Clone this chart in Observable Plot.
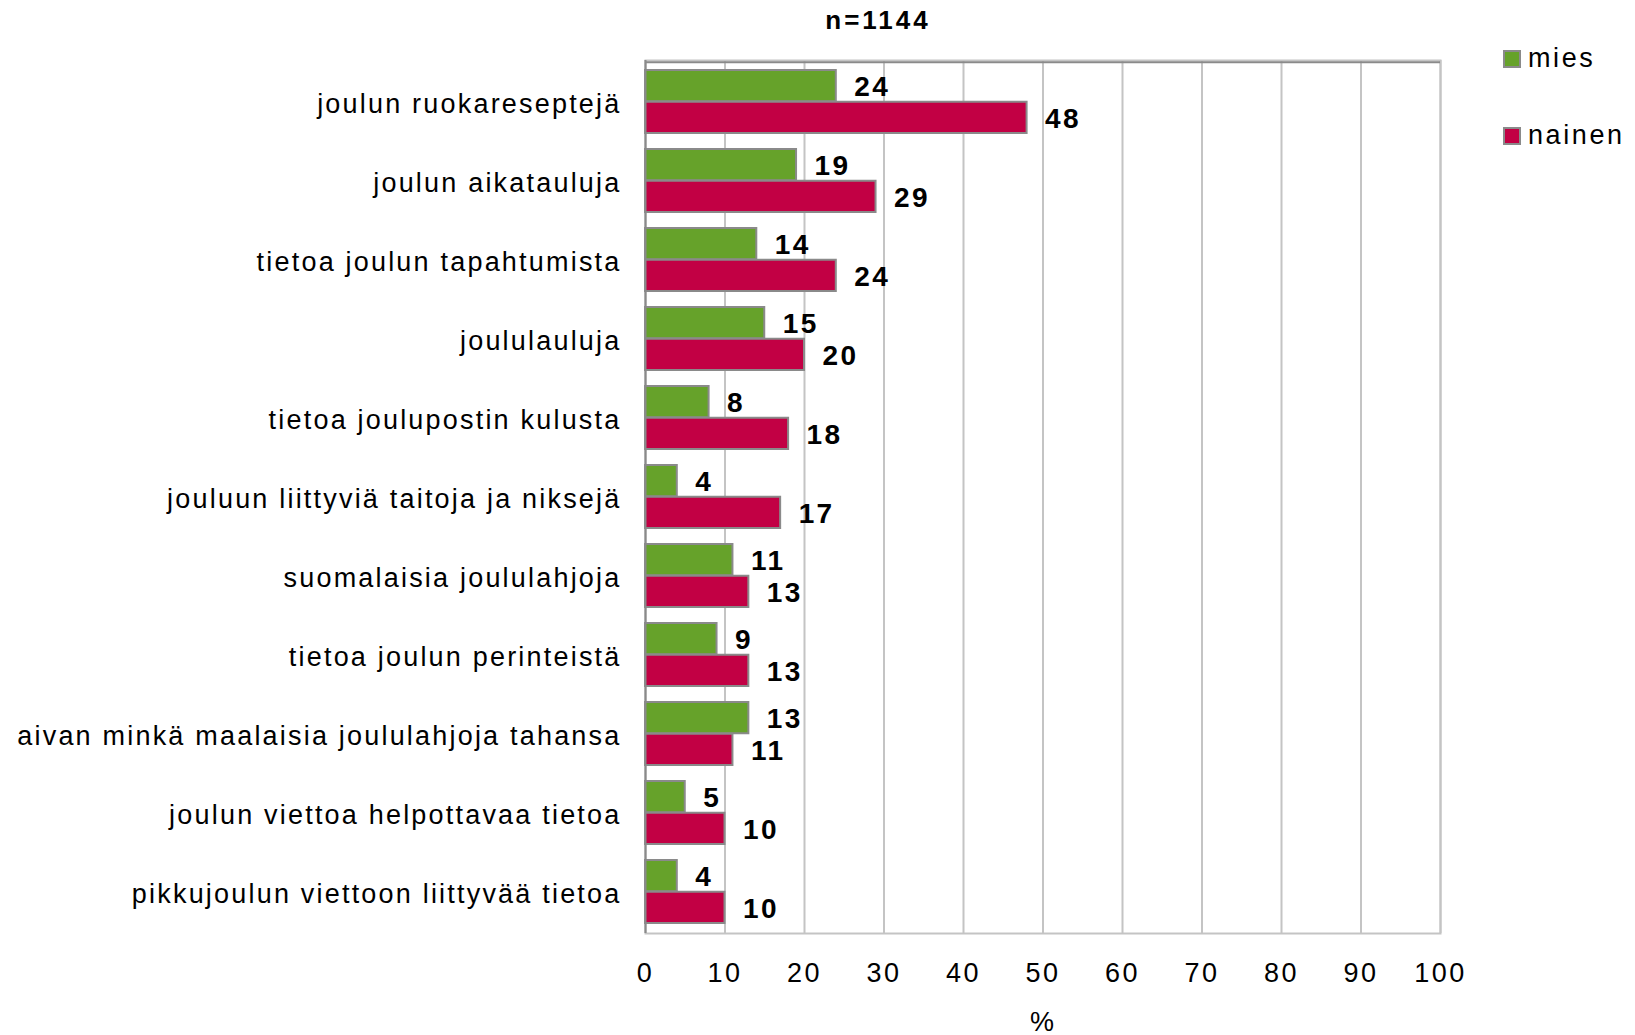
<!DOCTYPE html>
<html>
<head>
<meta charset="utf-8">
<script src="https://cdn.jsdelivr.net/npm/d3@7"></script>
<script src="https://cdn.jsdelivr.net/npm/@observablehq/plot@0.6"></script>
<style>
  html, body { margin: 0; padding: 0; background: #fff; }
  #wrap { position: relative; width: 1635px; height: 1035px; font-family: "Liberation Sans", Arial, sans-serif; color: #000; }
  #chart { position: absolute; left: 0; top: 0; }
  #chart svg text { letter-spacing: 2.2px; }
  #chart svg .vals text { letter-spacing: 2.4px; }
  #chart svg .xax text { letter-spacing: 2.5px; }
  #title { position: absolute; left: 776px; width: 204px; top: 5px; text-align: center; font-weight: bold; font-size: 26px; letter-spacing: 3px; }
  .leg { position: absolute; left: 1503px; font-size: 27px; display: flex; align-items: center; letter-spacing: 2.6px; }
  .sw { width: 18px; height: 18px; border: 2px solid #8a8a8a; margin-right: 7px; box-sizing: border-box; }
</style>
</head>
<body>
<div id="wrap">
  <div id="chart"></div>
  <div id="title">n=1144</div>
  <div class="leg" style="top:43px"><span class="sw" style="background:#66a22a"></span>mies</div>
  <div class="leg" style="top:120px"><span class="sw" style="background:#c20044"></span>nainen</div>
</div>
<script>
const categories = [
  "joulun ruokareseptejä",
  "joulun aikatauluja",
  "tietoa joulun tapahtumista",
  "joululauluja",
  "tietoa joulupostin kulusta",
  "jouluun liittyviä taitoja ja niksejä",
  "suomalaisia joululahjoja",
  "tietoa joulun perinteistä",
  "aivan minkä maalaisia joululahjoja tahansa",
  "joulun viettoa helpottavaa tietoa",
  "pikkujoulun viettoon liittyvää tietoa"
];
const mies = [24, 19, 14, 15, 8, 4, 11, 9, 13, 5, 4];
const nainen = [48, 29, 24, 20, 18, 17, 13, 13, 11, 10, 10];
const xTicks = [0, 10, 20, 30, 40, 50, 60, 70, 80, 90, 100];

const miesData = categories.map((c, i) => ({cat: c, v: mies[i]}));
const nainenData = categories.map((c, i) => ({cat: c, v: nainen[i]}));

const W = 1635, H = 1035;
const mT = 60, mB = 102, mL = 645, mR = 195;
const pIn = 0.2, pOut = 0.1;
const step = (H - mT - mB) / (categories.length - pIn + 2 * pOut);
const bw = step * (1 - pIn);
const half = bw / 2;

const chart = Plot.plot({
  width: W,
  height: H,
  marginTop: mT,
  marginBottom: mB,
  marginLeft: mL,
  marginRight: mR,
  style: {fontFamily: "'Liberation Sans', Arial, sans-serif", color: "#000", background: "#fff"},
  x: {domain: [0, 100]},
  y: {domain: categories, paddingInner: pIn, paddingOuter: pOut},
  marks: [
    Plot.frame({stroke: "#c4c4c4", strokeWidth: 2}),
    Plot.gridX(xTicks, {stroke: "#c4c4c4", strokeOpacity: 1, strokeWidth: 2}),
    Plot.ruleY([categories[0]], {dy: -(step * pOut + bw / 2), stroke: "#8a8a8a", strokeWidth: 2}),
    Plot.barX(miesData, {y: "cat", x: "v", fill: "#66a22a", stroke: "#8a8a8a", strokeWidth: 2, insetTop: 0, insetBottom: half}),
    Plot.barX(nainenData, {y: "cat", x: "v", fill: "#c20044", stroke: "#8a8a8a", strokeWidth: 2, insetTop: half, insetBottom: 0}),
    Plot.ruleX([0], {stroke: "#8a8a8a", strokeWidth: 2}),
    Plot.text(miesData, {y: "cat", x: "v", text: d => String(d.v), dx: 18, dy: -half / 2 + 1, textAnchor: "start", fontWeight: "bold", fontSize: 28, fill: "#000", className: "vals"}),
    Plot.text(nainenData, {y: "cat", x: "v", text: d => String(d.v), dx: 18, dy: half / 2 + 1, textAnchor: "start", fontWeight: "bold", fontSize: 28, fill: "#000", className: "vals"}),
    Plot.axisY({tickSize: 0, tickPadding: 24, dy: 2, fontSize: 27, label: null}),
    Plot.axisX(xTicks, {tickSize: 0, tickPadding: 29, fontSize: 27, label: null, className: "xax"}),
    Plot.text(["%"], {frameAnchor: "bottom", dy: 97, fontSize: 27, fill: "#000"})
  ]
});
document.getElementById("chart").appendChild(chart);
</script>
</body>
</html>
